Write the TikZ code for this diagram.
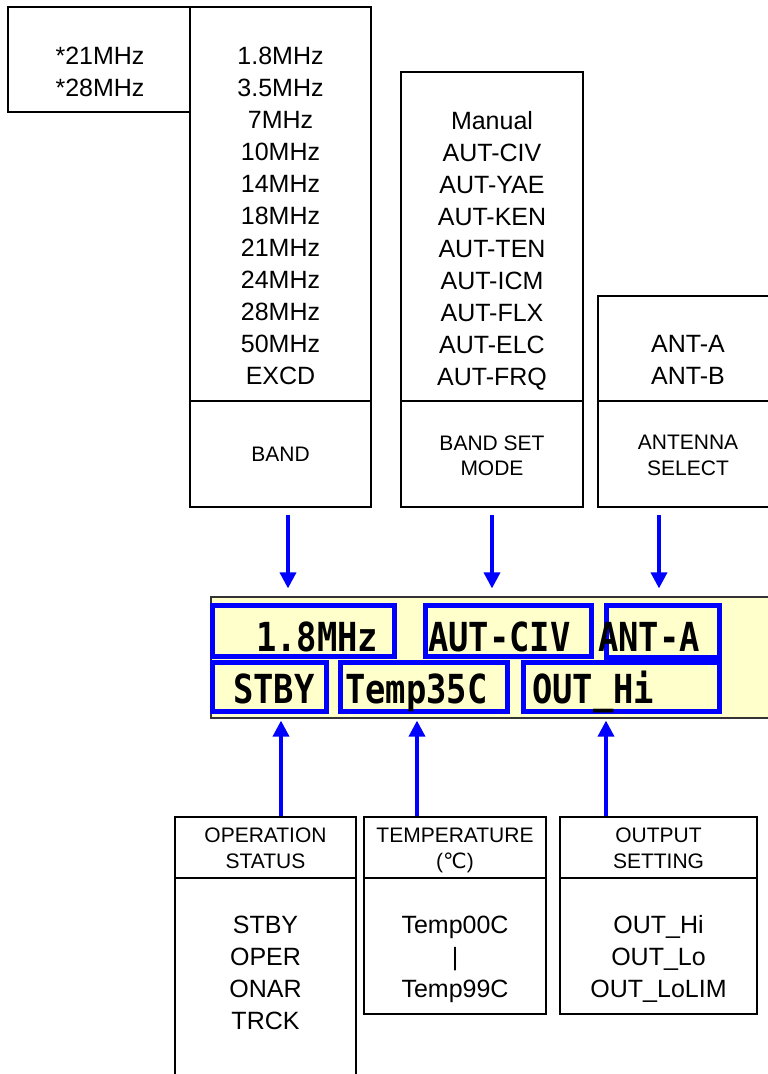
\documentclass[tikz,border=0pt]{standalone}
\usepackage{fontspec}
\setmainfont{Liberation Sans}
\newfontfamily\lcdfont{DejaVu Sans Mono}
\newfontfamily\degfont{DejaVu Sans}
\usepackage{graphicx}
\usetikzlibrary{arrows.meta, calc}

\definecolor{lcdyellow}{HTML}{FFFFCC}
\newcommand{\lcdstr}[1]{\scalebox{0.845}[1]{#1}}

\tikzset{
  menubox/.style={draw, line width=1.3pt, inner sep=0pt},
  itemtext/.style={anchor=base, inner sep=0pt, font=\fontsize{25}{30}\selectfont},
  headtext/.style={anchor=base, inner sep=0pt, font=\fontsize{21}{25}\selectfont},
  lcdtext/.style={anchor=base west, inner sep=0pt, font=\lcdfont\bfseries\fontsize{40}{42}\selectfont},
  lcdbox/.style={draw=blue, line width=5pt},
  feed/.style={blue, line width=3.5pt, -{Triangle[length=16pt,width=16pt]}}
}

\begin{document}
\begin{tikzpicture}[x=1pt, y=-1pt]
  \useasboundingbox (0,0) rectangle (768,1074);

  % Menu boxes above the display
  \node[menubox, minimum width=182pt, minimum height=105pt] (extra) at (99,59.5) {};
  \node[menubox, minimum width=181pt, minimum height=394pt] (bandlist) at (280.5,204) {};
  \node[menubox, minimum width=181pt, minimum height=106pt] (bandlbl) at (280.5,454) {};
  \node[menubox, minimum width=182pt, minimum height=329pt] (modelist) at (492,236.5) {};
  \node[menubox, minimum width=182pt, minimum height=106pt] (modelbl) at (492,454) {};
  \node[menubox, minimum width=180pt, minimum height=105pt] (antlist) at (688,348.5) {};
  \node[menubox, minimum width=180pt, minimum height=106pt] (antlbl) at (688,454) {};

  \node[itemtext] (x21) at (100,64) {*21MHz};
  \node[itemtext] (x28) at (100,96) {*28MHz};
  \foreach \f [count=\i] in {1.8MHz,3.5MHz,7MHz,10MHz,14MHz,18MHz,21MHz,24MHz,28MHz,50MHz,EXCD}
    \node[itemtext] (band\i) at (280.5,32+32*\i) {\f};
  \foreach \f [count=\i] in {Manual,AUT-CIV,AUT-YAE,AUT-KEN,AUT-TEN,AUT-ICM,AUT-FLX,AUT-ELC,AUT-FRQ}
    \node[itemtext] (mode\i) at (492,97+32*\i) {\f};
  \foreach \f [count=\i] in {ANT-A,ANT-B}
    \node[itemtext] (ant\i) at (688,320+32*\i) {\f};

  \node[headtext] (bandhd) at (280.5,461) {BAND};
  \node[headtext] (modehd1) at (492,450) {BAND SET};
  \node[headtext] (modehd2) at (492,475) {MODE};
  \node[headtext] (anthd1) at (688,449) {ANTENNA};
  \node[headtext] (anthd2) at (688,475) {SELECT};

  % Display
  \node[draw=black!80, line width=1.2pt, fill=lcdyellow, minimum width=579pt, minimum height=121pt] (lcd) at (500.5,657.5) {};
  \draw[lcdbox] (212,605) rectangle (394,656);
  \draw[lcdbox] (425,605) rectangle (591,656);
  \draw[lcdbox] (606,605) rectangle (719,657);
  \draw[lcdbox] (212,662) rectangle (326,711);
  \draw[lcdbox] (340,662) rectangle (507,711);
  \draw[lcdbox] (523,662) rectangle (719,711);
  \node[lcdtext] (lcdband) at (256,651) {\lcdstr{1.8MHz}};
  \node[lcdtext] (lcdmode) at (428,651) {\lcdstr{AUT-CIV}};
  \node[lcdtext] (lcdant) at (598,651) {\lcdstr{ANT-A}};
  \node[lcdtext] (lcdstat) at (233,703) {\lcdstr{STBY}};
  \node[lcdtext] (lcdtemp) at (345,703) {\lcdstr{Temp35C}};
  \node[lcdtext] (lcdout) at (532,703) {\lcdstr{OUT\_Hi}};

  % Menu boxes below the display
  \node[menubox, minimum width=181pt, minimum height=61pt] (statlbl) at (265.5,847.5) {};
  \node[menubox, minimum width=181pt, minimum height=212pt] (statlist) at (265.5,984) {};
  \node[menubox, minimum width=182pt, minimum height=61pt] (templbl) at (455,847.5) {};
  \node[menubox, minimum width=182pt, minimum height=136pt] (templist) at (455,946) {};
  \node[menubox, minimum width=197pt, minimum height=61pt] (outlbl) at (658.5,847.5) {};
  \node[menubox, minimum width=197pt, minimum height=136pt] (outlist) at (658.5,946) {};

  \node[headtext] (stathd1) at (265.5,842) {OPERATION};
  \node[headtext] (stathd2) at (265.5,868) {STATUS};
  \node[headtext] (temphd1) at (455,842) {TEMPERATURE};
  \node[headtext] (temphd2) at (455,868) {({\degfont ℃})};
  \node[headtext] (outhd1) at (658.5,842) {OUTPUT};
  \node[headtext] (outhd2) at (658.5,868) {SETTING};

  \foreach \f [count=\i] in {STBY,OPER,ONAR,TRCK}
    \node[itemtext] (stat\i) at (265.5,901+32*\i) {\f};
  \foreach \f [count=\i] in {Temp00C,|,Temp99C}
    \node[itemtext] (temp\i) at (455,901+32*\i) {\f};
  \foreach \f [count=\i] in {OUT\_Hi,OUT\_Lo,OUT\_LoLIM}
    \node[itemtext] (out\i) at (658.5,901+32*\i) {\f};

  % Arrows
  \draw[feed, shorten <=7pt, shorten >=8pt] ([xshift=7.5]bandlbl.south) -- ([xshift=7.5]bandlbl.south |- lcd.north);
  \draw[feed, shorten <=7pt, shorten >=8pt] (modelbl.south) -- (modelbl.south |- lcd.north);
  \draw[feed, shorten <=7pt, shorten >=8pt] ([xshift=-29]antlbl.south) -- ([xshift=-29]antlbl.south |- lcd.north);
  \draw[feed, shorten >=2pt] ([xshift=15.5]statlbl.north) -- ([xshift=15.5]statlbl.north |- lcd.south);
  \draw[feed, shorten >=2pt] ([xshift=-38]templbl.north) -- ([xshift=-38]templbl.north |- lcd.south);
  \draw[feed, shorten >=2pt] ([xshift=-52.5]outlbl.north) -- ([xshift=-52.5]outlbl.north |- lcd.south);
\end{tikzpicture}
\end{document}
